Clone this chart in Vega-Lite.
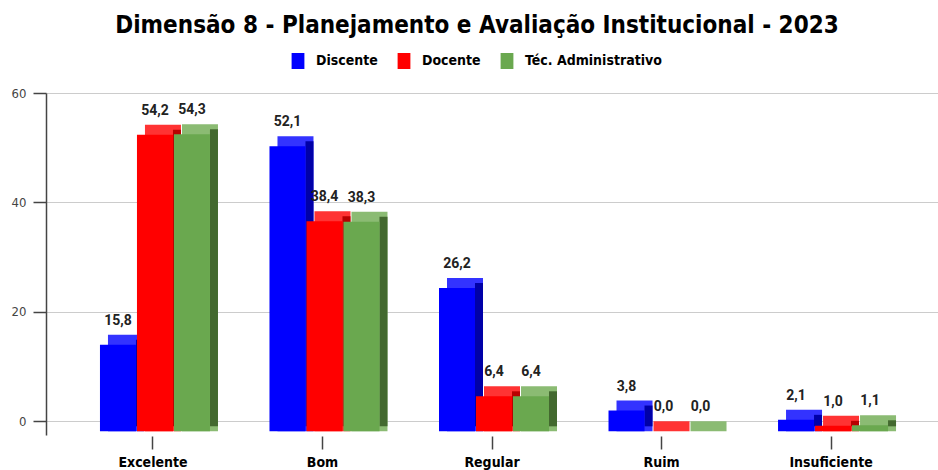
{
  "$schema": "https://vega.github.io/schema/vega-lite/v6.json",
  "width": 892,
  "height": 342,
  "autosize": "none",
  "padding": {"left": 46, "top": 93, "right": 0, "bottom": 35},
  "background": "white",
  "title": {
    "text": "Dimensão 8 - Planejamento e Avaliação Institucional - 2023",
    "font": "DejaVu Sans Condensed, Liberation Sans, sans-serif",
    "fontSize": 24,
    "fontWeight": "bold",
    "color": "#000000",
    "anchor": "middle",
    "dx": -15,
    "offset": 15
  },
  "config": {
    "view": {"stroke": null},
    "locale": {"number": {"decimal": ",", "thousands": ".", "grouping": [3], "currency": ["R$", ""]}},
    "font": "DejaVu Sans Condensed, Liberation Sans, sans-serif"
  },
  "data": {
    "values": [
      {"categoria": "Excelente", "serie": "Discente", "valor": 15.8},
      {"categoria": "Excelente", "serie": "Docente", "valor": 54.2},
      {"categoria": "Excelente", "serie": "Téc. Administrativo", "valor": 54.3},
      {"categoria": "Bom", "serie": "Discente", "valor": 52.1},
      {"categoria": "Bom", "serie": "Docente", "valor": 38.4},
      {"categoria": "Bom", "serie": "Téc. Administrativo", "valor": 38.3},
      {"categoria": "Regular", "serie": "Discente", "valor": 26.2},
      {"categoria": "Regular", "serie": "Docente", "valor": 6.4},
      {"categoria": "Regular", "serie": "Téc. Administrativo", "valor": 6.4},
      {"categoria": "Ruim", "serie": "Discente", "valor": 3.8},
      {"categoria": "Ruim", "serie": "Docente", "valor": 0.0},
      {"categoria": "Ruim", "serie": "Téc. Administrativo", "valor": 0.0},
      {"categoria": "Insuficiente", "serie": "Discente", "valor": 2.1},
      {"categoria": "Insuficiente", "serie": "Docente", "valor": 1.0},
      {"categoria": "Insuficiente", "serie": "Téc. Administrativo", "valor": 1.1}
    ]
  },
  "encoding": {
    "x": {
      "field": "categoria",
      "type": "nominal",
      "sort": ["Excelente", "Bom", "Regular", "Ruim", "Insuficiente"],
      "scale": {"paddingOuter": 0.131, "paddingInner": 0},
      "axis": {
        "title": null,
        "domain": false,
        "labelAngle": 0,
        "labelFontSize": 14,
        "labelFontWeight": "bold",
        "labelColor": "#000000",
        "labelPadding": 6,
        "tickColor": "#444444",
        "tickSize": 13,
        "tickWidth": 1.5,
        "offset": 1,
        "grid": false
      }
    },
    "y": {
      "field": "valor",
      "type": "quantitative",
      "scale": {"domain": [-2.5, 60], "nice": false, "zero": false},
      "axis": {
        "title": null,
        "values": [0, 20, 40, 60],
        "domainColor": "#444444",
        "domainWidth": 1.5,
        "tickColor": "#444444",
        "tickSize": 13,
        "tickWidth": 1.5,
        "labelFontSize": 13,
        "labelColor": "#444444",
        "labelPadding": 7,
        "gridColor": "#cccccc",
        "gridWidth": 1
      }
    }
  },
  "layer": [
    {
      "data": {"values": [{}]},
      "mark": {"type": "rect", "color": "#e8e8e8"},
      "encoding": {"x": null, "y": {"datum": 0}, "y2": {"datum": -2.5}}
    },
    {
      "data": {"values": [{}]},
      "mark": {"type": "rule", "color": "#666666", "strokeWidth": 1.2},
      "encoding": {"x": null, "y": {"datum": 0}}
    },
    {
      "transform": [{"filter": "datum.serie === 'Discente'"}],
      "mark": {"type": "bar", "width": 36, "xOffset": -27, "color": "#3333ff", "y2Offset": 10},
      "encoding": {"y2": {"datum": 0}}
    },
    {
      "transform": [{"filter": "datum.serie === 'Discente'"}],
      "mark": {"type": "bar", "width": 8, "xOffset": -13, "color": "#0000a8", "yOffset": 5, "y2Offset": 5},
      "encoding": {"y2": {"datum": 0}}
    },
    {
      "transform": [{"filter": "datum.serie === 'Docente'"}],
      "mark": {"type": "bar", "width": 36, "xOffset": 10, "color": "#ff3333", "y2Offset": 10},
      "encoding": {"y2": {"datum": 0}}
    },
    {
      "transform": [{"filter": "datum.serie === 'Docente'"}],
      "mark": {"type": "bar", "width": 8, "xOffset": 24, "color": "#b80000", "yOffset": 5, "y2Offset": 5},
      "encoding": {"y2": {"datum": 0}}
    },
    {
      "transform": [{"filter": "datum.serie === 'Téc. Administrativo'"}],
      "mark": {"type": "bar", "width": 36, "xOffset": 47, "color": "#8bbb73", "y2Offset": 10},
      "encoding": {"y2": {"datum": 0}}
    },
    {
      "transform": [{"filter": "datum.serie === 'Téc. Administrativo'"}],
      "mark": {"type": "bar", "width": 8, "xOffset": 61, "color": "#43692f", "yOffset": 5, "y2Offset": 5},
      "encoding": {"y2": {"datum": 0}}
    },
    {
      "transform": [{"filter": "datum.serie === 'Discente'"}],
      "mark": {"type": "bar", "width": 36, "xOffset": -35, "yOffset": 10, "y2Offset": 10},
      "encoding": {
        "y2": {"datum": 0},
        "color": {
          "field": "serie",
          "type": "nominal",
          "scale": {"domain": ["Discente", "Docente", "Téc. Administrativo"], "range": ["#0000ff", "#ff0000", "#6aa84f"]},
          "legend": {
            "title": null,
            "orient": "none",
            "direction": "horizontal",
            "legendX": 244,
            "legendY": -40,
            "symbolType": "M-0.8,-1H0.8V1H-0.8Z",
            "symbolSize": 256,
            "symbolStrokeWidth": 0,
            "symbolOpacity": 1,
            "labelFontSize": 14,
            "labelFontWeight": "bold",
            "labelColor": "#000000",
            "labelOffset": 10,
            "columnPadding": 18
          }
        }
      }
    },
    {
      "transform": [{"filter": "datum.serie === 'Docente'"}],
      "mark": {"type": "bar", "width": 36, "xOffset": 2, "yOffset": 10, "y2Offset": 10},
      "encoding": {"y2": {"datum": 0}, "color": {"field": "serie", "type": "nominal"}}
    },
    {
      "transform": [{"filter": "datum.serie === 'Téc. Administrativo'"}],
      "mark": {"type": "bar", "width": 36, "xOffset": 39, "yOffset": 10, "y2Offset": 10},
      "encoding": {"y2": {"datum": 0}, "color": {"field": "serie", "type": "nominal"}}
    },
    {
      "transform": [{"filter": "datum.serie === 'Discente'"}],
      "mark": {"type": "text", "xOffset": -35, "dy": -7, "baseline": "bottom", "font": "Roboto", "fontSize": 14, "fontWeight": "bold", "color": "#222222"},
      "encoding": {"text": {"field": "valor", "type": "quantitative", "format": ".1f"}}
    },
    {
      "transform": [{"filter": "datum.serie === 'Docente'"}],
      "mark": {"type": "text", "xOffset": 2, "dy": -7, "baseline": "bottom", "font": "Roboto", "fontSize": 14, "fontWeight": "bold", "color": "#222222"},
      "encoding": {"text": {"field": "valor", "type": "quantitative", "format": ".1f"}}
    },
    {
      "transform": [{"filter": "datum.serie === 'Téc. Administrativo'"}],
      "mark": {"type": "text", "xOffset": 39, "dy": -7, "baseline": "bottom", "font": "Roboto", "fontSize": 14, "fontWeight": "bold", "color": "#222222"},
      "encoding": {"text": {"field": "valor", "type": "quantitative", "format": ".1f"}}
    }
  ]
}
